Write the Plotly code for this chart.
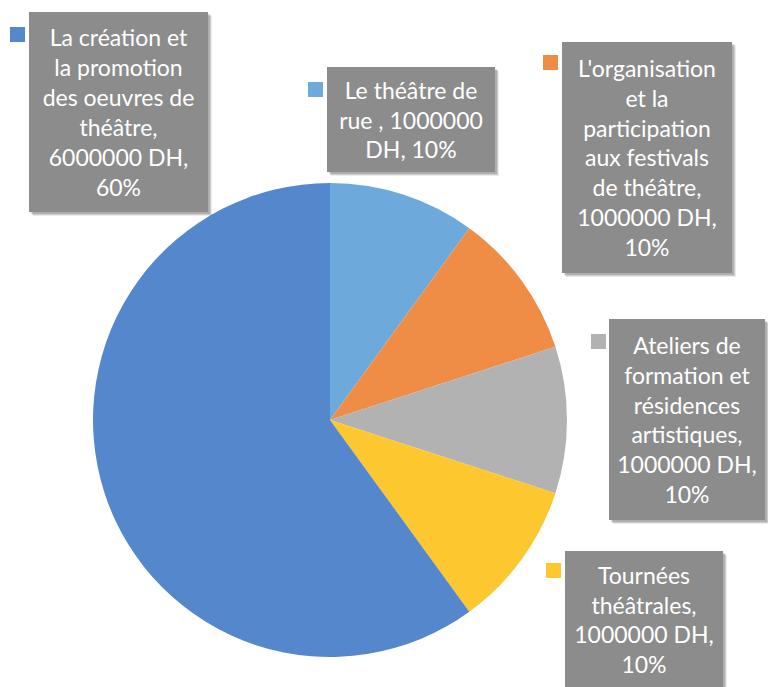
import plotly.graph_objects as go

# ---- data ----
categories = [
    "Le théâtre de rue ",
    "L'organisation et la participation aux festivals de théâtre",
    "Ateliers de formation et résidences artistiques",
    "Tournées théâtrales",
    "La création et la promotion des oeuvres de théâtre",
]
amounts = [1000000, 1000000, 1000000, 1000000, 6000000]
label_lines = [
    ["Le théâtre de", "rue , {v}", "DH, {p}"],
    ["L'organisation", "et la", "participation", "aux festivals", "de théâtre,", "{v} DH,", "{p}"],
    ["Ateliers de", "formation et", "résidences", "artistiques,", "{v} DH,", "{p}"],
    ["Tournées", "théâtrales,", "{v} DH,", "{p}"],
    ["La création et", "la promotion", "des oeuvres de", "théâtre,", "{v} DH,", "{p}"],
]
colors = ["#6DAADB", "#EF8D47", "#B2B2B2", "#FDC72F", "#5587CD"]

W, H = 768, 687
total = sum(amounts)

fig = go.Figure(go.Pie(
    labels=categories,
    values=amounts,
    sort=False,
    direction="clockwise",
    rotation=0,
    marker=dict(colors=colors, line=dict(color="white", width=0)),
    textinfo="none",
    hoverinfo="label+value+percent",
    domain=dict(x=[93 / W, 567 / W], y=[1 - 657 / H, 1 - 183 / H]),
    showlegend=False,
))

# label box layout (pixels: left, top, width, height) and marker squares
boxes = [
    (327, 67, 168, 105),
    (562, 42, 170, 231),
    (609, 319, 156, 201),
    (565, 551, 158, 137),
    (29, 12, 179, 200),
]
squares = [
    (308, 82),
    (543, 55),
    (591, 334),
    (546, 563),
    (10, 27),
]

def px(x):
    return x / W

def py(y):
    return 1 - y / H

shapes = []
annotations = []
for i, (lines, amt) in enumerate(zip(label_lines, amounts)):
    pct = f"{round(amt / total * 100)}%"
    text = "<br>".join(l.format(v=amt, p=pct) for l in lines)
    l, t, w, h = boxes[i]
    # soft shadow
    for off, a in [(4, 0.08), (3, 0.12), (2, 0.15)]:
        shapes.append(dict(type="rect", xref="paper", yref="paper",
                           x0=px(l + off), x1=px(l + w + off),
                           y0=py(t + off), y1=py(t + h + off),
                           fillcolor=f"rgba(0,0,0,{a})", line=dict(width=0),
                           layer="above"))
    annotations.append(dict(
        xref="paper", yref="paper", x=px(l), y=py(t),
        xanchor="left", yanchor="top",
        text=text, showarrow=False, align="center",
        width=w, height=h, borderpad=0, borderwidth=0,
        bgcolor="#8C8C8C",
        font=dict(family="Lato, 'Open Sans', sans-serif", size=23, color="#FFFFFF"),
    ))
    sx, sy = squares[i]
    shapes.append(dict(type="rect", xref="paper", yref="paper",
                       x0=px(sx), x1=px(sx + 15), y0=py(sy), y1=py(sy + 15),
                       fillcolor=colors[i], line=dict(width=0), layer="above"))

fig.update_layout(
    width=W, height=H,
    margin=dict(l=0, r=0, t=0, b=0),
    paper_bgcolor="white",
    plot_bgcolor="white",
    shapes=shapes,
    annotations=annotations,
)

fig.write_html("out.html",
               config={"displayModeBar": False},
               post_script="document.body.style.margin='0';document.body.style.overflow='hidden';")
